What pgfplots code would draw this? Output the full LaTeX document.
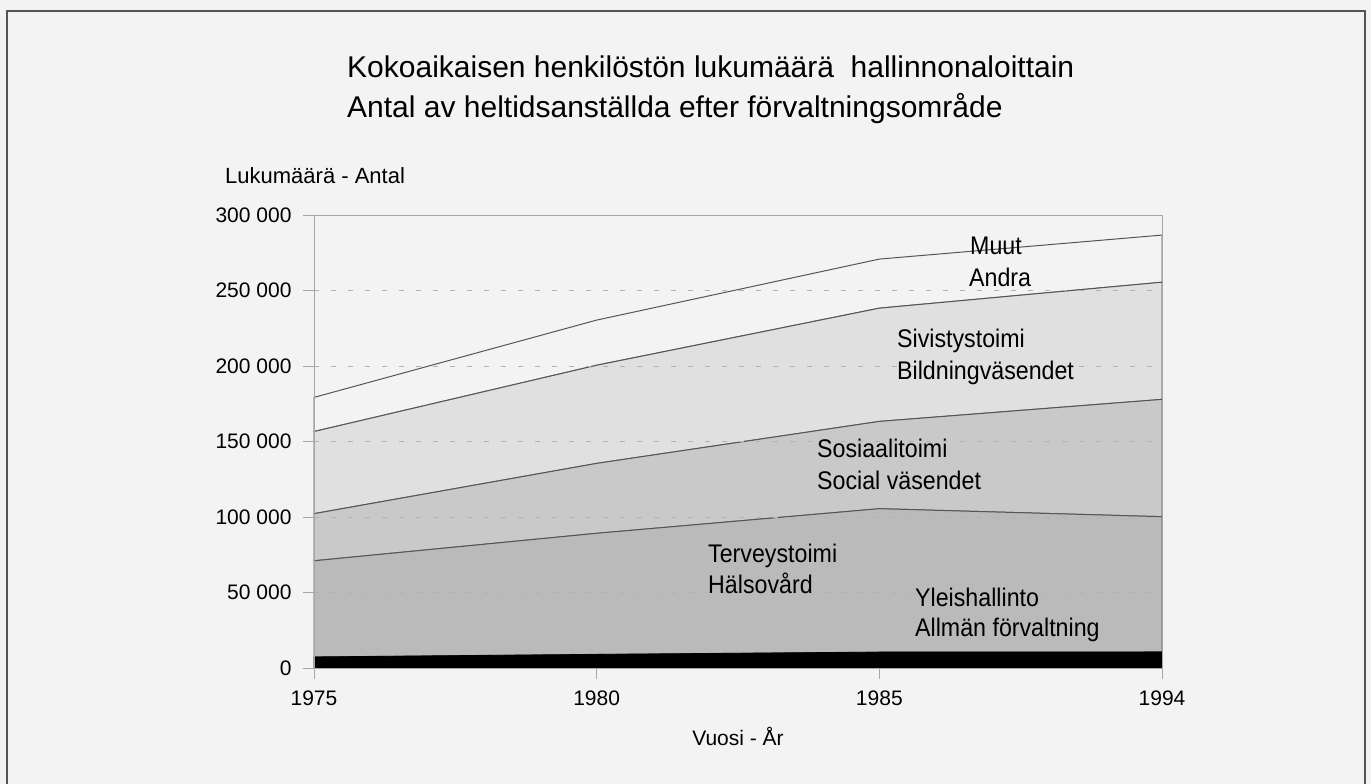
\documentclass[border=0pt]{standalone}
\usepackage{pgfplots}
\pgfplotsset{compat=1.18}
\usepackage{fontspec}
\setmainfont{Liberation Sans}
\newfontfamily\condfont[FakeStretch=0.91]{Liberation Sans}
\definecolor{bg}{HTML}{F3F3F3}
\definecolor{cSiv}{HTML}{E0E0E0}
\definecolor{cSos}{HTML}{C9C9C9}
\definecolor{cTer}{HTML}{BABABA}
\definecolor{edge}{HTML}{555555}
\begin{document}
\begin{tikzpicture}[x=1pt,y=1pt]
\useasboundingbox (0,0) rectangle (1371,784);
\fill[bg] (0,0) rectangle (1371,784);
\draw[edge, line width=1.6pt] (7,-5) -- (7,773) -- (1365,773) -- (1365,-5);
\begin{axis}[
  at={(314pt,116pt)}, anchor=south west,
  scale only axis, width=848pt, height=453pt,
  xmin=0, xmax=3, ymin=0, ymax=300000,
  scaled y ticks=false,
  xtick={0,1,2,3}, xticklabels={1975,1980,1985,1994},
  ytick={0,50000,100000,150000,200000,250000,300000},
  yticklabels={0,50 000,100 000,150 000,200 000,250 000,300 000},
  tick pos=left, tick align=outside, major tick length=11pt,
  tick style={gray!70, line width=0.8pt},
  axis line style={gray!70, line width=0.8pt},
  ymajorgrids, grid style={gray!60, dashed, dash pattern=on 5pt off 12pt, line width=0.6pt},
  ticklabel style={font=\fontsize{21}{24}\selectfont},
  yticklabel style={xshift=-8pt},
  xticklabel style={yshift=-8pt},
  stack plots=y, area style,
  clip=false,
]
\addplot[fill=black, draw=black, line width=0.8pt] coordinates {(0,7300) (1,9000) (2,10500) (3,10600)} \closedcycle;
\addplot[fill=cTer, draw=edge, line width=1pt] coordinates {(0,63700) (1,80200) (2,95000) (3,89600)} \closedcycle;
\addplot[fill=cSos, draw=edge, line width=1pt] coordinates {(0,31200) (1,46300) (2,57800) (3,77700)} \closedcycle;
\addplot[fill=cSiv, draw=edge, line width=1pt] coordinates {(0,54400) (1,65000) (2,75000) (3,77600)} \closedcycle;
\addplot[fill=bg, draw=edge, line width=1pt] coordinates {(0,22600) (1,29900) (2,32500) (3,31200)} \closedcycle;
\end{axis}
% titles
\node[anchor=base west, inner sep=0pt, font=\fontsize{30}{34}\selectfont] at (347,706) {Kokoaikaisen henkilöstön lukumäärä\ \ hallinnonaloittain};
\node[anchor=base west, inner sep=0pt, font=\fontsize{30}{34}\selectfont] at (347,666) {Antal av heltidsanställda efter förvaltningsområde};
\node[anchor=base west, inner sep=0pt, font=\fontsize{22}{25}\selectfont] at (225,600) {Lukumäärä - Antal};
\node[anchor=base, inner sep=0pt, font=\fontsize{21}{24}\selectfont] at (738,38) {Vuosi - År};
% area labels
\begin{scope}[every node/.style={anchor=base west, inner sep=0pt, font=\condfont\fontsize{25.5}{28}\selectfont}]
\node at (970,529) {Muut};
\node at (969,497) {Andra};
\node at (897,436) {Sivistystoimi};
\node at (897,404) {Bildningväsendet};
\node at (817,326) {Sosiaalitoimi};
\node at (817,294) {Social väsendet};
\node at (708,221) {Terveystoimi};
\node at (708,190) {Hälsovård};
\node at (915,177) {Yleishallinto};
\node at (915,147) {Allmän förvaltning};
\end{scope}
\end{tikzpicture}
\end{document}
